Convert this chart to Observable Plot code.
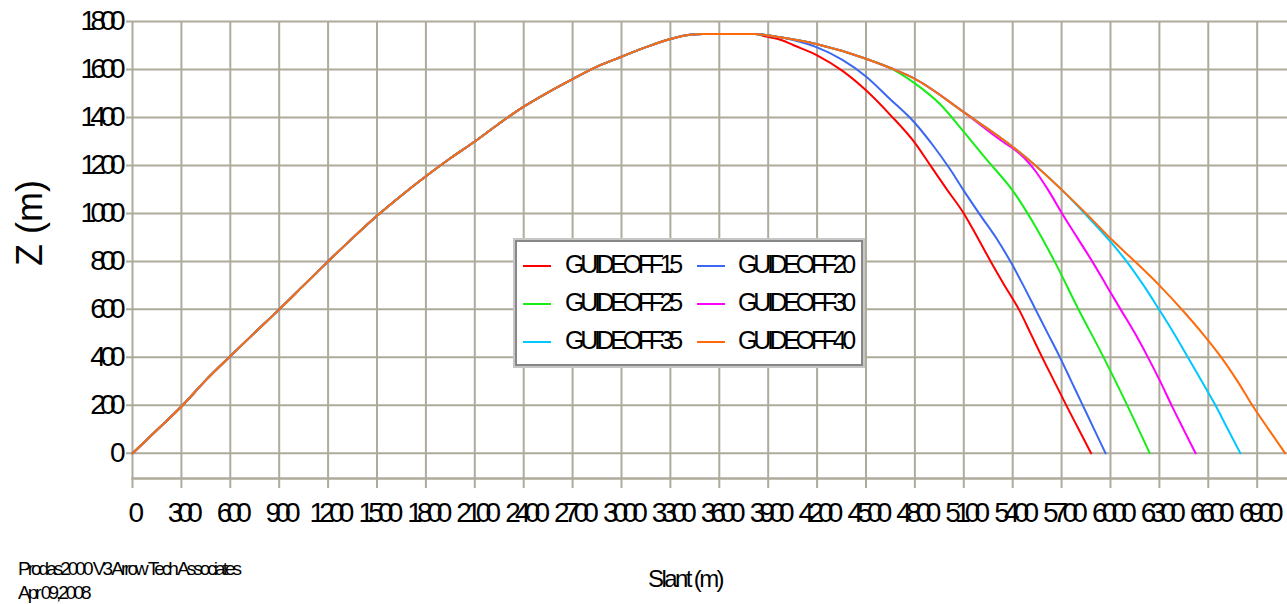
<!DOCTYPE html>
<html>
<head>
<meta charset="utf-8">
<script src="https://cdn.jsdelivr.net/npm/d3@7"></script>
<script src="https://cdn.jsdelivr.net/npm/@observablehq/plot@0.6"></script>
<style>
  html, body { margin: 0; padding: 0; background: #fff; }
  #wrap { position: relative; width: 1287px; height: 604px; overflow: hidden;
          font-family: "Liberation Sans", Arial, sans-serif; color: #000; }
  #wrap svg { position: absolute; left: 0; top: 0; }
  .legend { position: absolute; left: 515px; top: 240px; width: 348px; height: 126px;
            box-sizing: border-box; border: 2px solid #878787; background: #fff;
            box-shadow: 0 0 0 2px #c6c6c6; }
  .legend .sw { position: absolute; height: 2px; width: 28px; }
  .legend .lb { position: absolute; font-size: 25px; letter-spacing: -4.3px;
                line-height: 30px; height: 30px; white-space: nowrap; }
  .caption { position: absolute; left: 18px; font-size: 19px; letter-spacing: -3px;
             line-height: 19px; white-space: nowrap; }
</style>
</head>
<body>
<div id="wrap"></div>
<script>
// ---- data ----
const seriesNames = ["GUIDEOFF15", "GUIDEOFF20", "GUIDEOFF25", "GUIDEOFF30", "GUIDEOFF35", "GUIDEOFF40"];
const seriesColors = ["#ff0000", "#3a68f2", "#16ee16", "#ff00ff", "#00c8ff", "#ff6a0a"];

const xTicks = [0, 300, 600, 900, 1200, 1500, 1800, 2100, 2400, 2700, 3000, 3300, 3600, 3900,
                4200, 4500, 4800, 5100, 5400, 5700, 6000, 6300, 6600, 6900];
const yTicks = [0, 200, 400, 600, 800, 1000, 1200, 1400, 1600, 1800];

// common ascent (all runs coincide)
const ascentX = [0, 150, 300, 450, 600, 750, 900, 1050, 1200, 1350, 1500, 1650, 1800, 1950, 2100,
                 2250, 2400, 2550, 2700, 2850, 3000, 3150, 3300, 3420, 3500, 3820];
const ascentZ = [0, 97, 195, 305, 405, 503, 600, 700, 800, 897, 990, 1075, 1155, 1230, 1300,
                 1375, 1445, 1505, 1560, 1612, 1653, 1693, 1727, 1745, 1748, 1748];

// GUIDEOFF40 descent
const off40X = [3964, 4200, 4500, 4650, 4800, 5100, 5400, 5536, 5703, 5862, 6004, 6165, 6300, 6450,
                6570, 6680, 6780, 6870, 6970, 7072];
const off40Z = [1735, 1705, 1645, 1606, 1561, 1422, 1278, 1202, 1097, 992, 893, 790, 700, 590,
                495, 400, 300, 200, 100, 0];

// other runs after they leave the GUIDEOFF40 path
const off15X = [3880, 3980, 4056, 4200, 4358, 4500, 4647, 4800, 4895, 4996, 5100, 5180, 5265, 5350,
                5438, 5510, 5581, 5655, 5729, 5805, 5881];
const off15Z = [1738, 1723, 1701, 1659, 1593, 1513, 1412, 1294, 1200, 1100, 1000, 905, 800, 700,
                600, 500, 400, 300, 200, 100, 0];
const off20X = [4060, 4200, 4358, 4500, 4647, 4800, 4915, 5016, 5100, 5201, 5306, 5390, 5465, 5540,
                5615, 5690, 5760, 5830, 5900, 5970];
const off20Z = [1722, 1692, 1639, 1571, 1477, 1377, 1280, 1184, 1095, 993, 890, 795, 700, 600,
                500, 400, 300, 200, 100, 0];
const off25X = [4800, 4955, 5100, 5243, 5400, 5536, 5657, 5800, 5958, 6103, 6241];
const off25Z = [1542, 1455, 1340, 1222, 1095, 950, 800, 605, 400, 200, 0];
const off30X = [5333, 5400, 5470, 5536, 5620, 5703, 5800, 5888, 5975, 6062, 6150, 6230, 6305, 6375, 6448, 6522];
const off30Z = [1302, 1272, 1232, 1180, 1095, 1000, 895, 800, 700, 600, 500, 400, 300, 200, 100, 0];
const off35X = [5862, 6000, 6103, 6200, 6293, 6385, 6471, 6560, 6644, 6720, 6797];
const off35Z = [985, 882, 796, 703, 605, 505, 405, 300, 200, 100, 0];

const xMax = 7086, yMin = -105;
const GRID = "#aeaa9c";

// ---- build table ----
const fullX = ascentX.concat(off40X), fullZ = ascentZ.concat(off40Z);
const tails = {
  GUIDEOFF15: [off15X, off15Z], GUIDEOFF20: [off20X, off20Z], GUIDEOFF25: [off25X, off25Z],
  GUIDEOFF30: [off30X, off30Z], GUIDEOFF35: [off35X, off35Z]
};
const data = [];
for (const s of seriesNames) {
  if (s === "GUIDEOFF40") {
    fullX.forEach((x, i) => data.push({series: s, x, z: fullZ[i]}));
  } else {
    const [tx, tz] = tails[s];
    fullX.forEach((x, i) => { if (x < tx[0]) data.push({series: s, x, z: fullZ[i]}); });
    tx.forEach((x, i) => data.push({series: s, x, z: tz[i]}));
  }
}

const fmt = d3.format("d");
const plot = Plot.plot({
  width: 1287, height: 604,
  marginLeft: 132, marginRight: 0, marginTop: 21, marginBottom: 126,
  style: {fontFamily: "'Liberation Sans', Arial, sans-serif", background: "transparent", color: "#000", overflow: "visible"},
  x: {domain: [0, xMax]},
  y: {domain: [yMin, 1800]},
  color: {domain: seriesNames, range: seriesColors},
  marks: [
    Plot.ruleX(xTicks, {stroke: GRID, strokeWidth: 2, strokeOpacity: 1, insetBottom: -10}),
    Plot.ruleY(yTicks, {stroke: GRID, strokeWidth: 2, strokeOpacity: 1, insetLeft: -6}),
    Plot.frame({anchor: "bottom", stroke: GRID, strokeWidth: 2.5}),
    Plot.axisX(xTicks, {tickSize: 0, tickPadding: 24, fontSize: 28, dx: 1, label: null, fill: "#000", tickFormat: fmt}),
    Plot.axisY(yTicks, {tickSize: 0, tickPadding: 12.8, fontSize: 28, label: null, fill: "#000", tickFormat: fmt}),
    Plot.line(data, {x: "x", y: "z", z: "series", stroke: "series", strokeWidth: 2, curve: "monotone-x"}),
    Plot.text(["Z (m)"], {frameAnchor: "left", dx: -102, dy: 16, rotate: -90, fontSize: 36, fill: "#000"}),
    Plot.text(["Slant (m)"], {frameAnchor: "bottom", dx: -25, dy: 108, fontSize: 24, fill: "#000"})
  ]
});

// condensed lettering like the original
plot.style.letterSpacing = "-5.8px";
plot.querySelectorAll("text").forEach(t => {
  if (t.textContent === "Z (m)") t.style.letterSpacing = "0px";
  if (t.textContent === "Slant (m)") t.style.letterSpacing = "-2.6px";
});

const wrap = document.getElementById("wrap");
wrap.appendChild(plot);

// legend (HTML, over the plot)
const legend = document.createElement("div");
legend.className = "legend";
const swLeft = [6, 180], lbLeft = [48, 221], rowCenter = [24, 61.5, 99.5];
seriesNames.forEach((s, i) => {
  const col = i % 2, row = Math.floor(i / 2);
  const sw = document.createElement("div");
  sw.className = "sw";
  sw.style.left = swLeft[col] + "px";
  sw.style.top = (rowCenter[row] - 1) + "px";
  sw.style.background = seriesColors[i];
  const lb = document.createElement("div");
  lb.className = "lb";
  lb.style.left = lbLeft[col] + "px";
  lb.style.top = (rowCenter[row] - 17) + "px";
  lb.textContent = s;
  legend.appendChild(sw);
  legend.appendChild(lb);
});
wrap.appendChild(legend);

const captionLines = ["Prodas2000 V3 Arrow Tech Associates", "Apr 09,2008"];
const captionTops = [559, 583];
captionLines.forEach((t, i) => {
  const c = document.createElement("div");
  c.className = "caption";
  c.style.top = captionTops[i] + "px";
  c.textContent = t;
  wrap.appendChild(c);
});
</script>
</body>
</html>
